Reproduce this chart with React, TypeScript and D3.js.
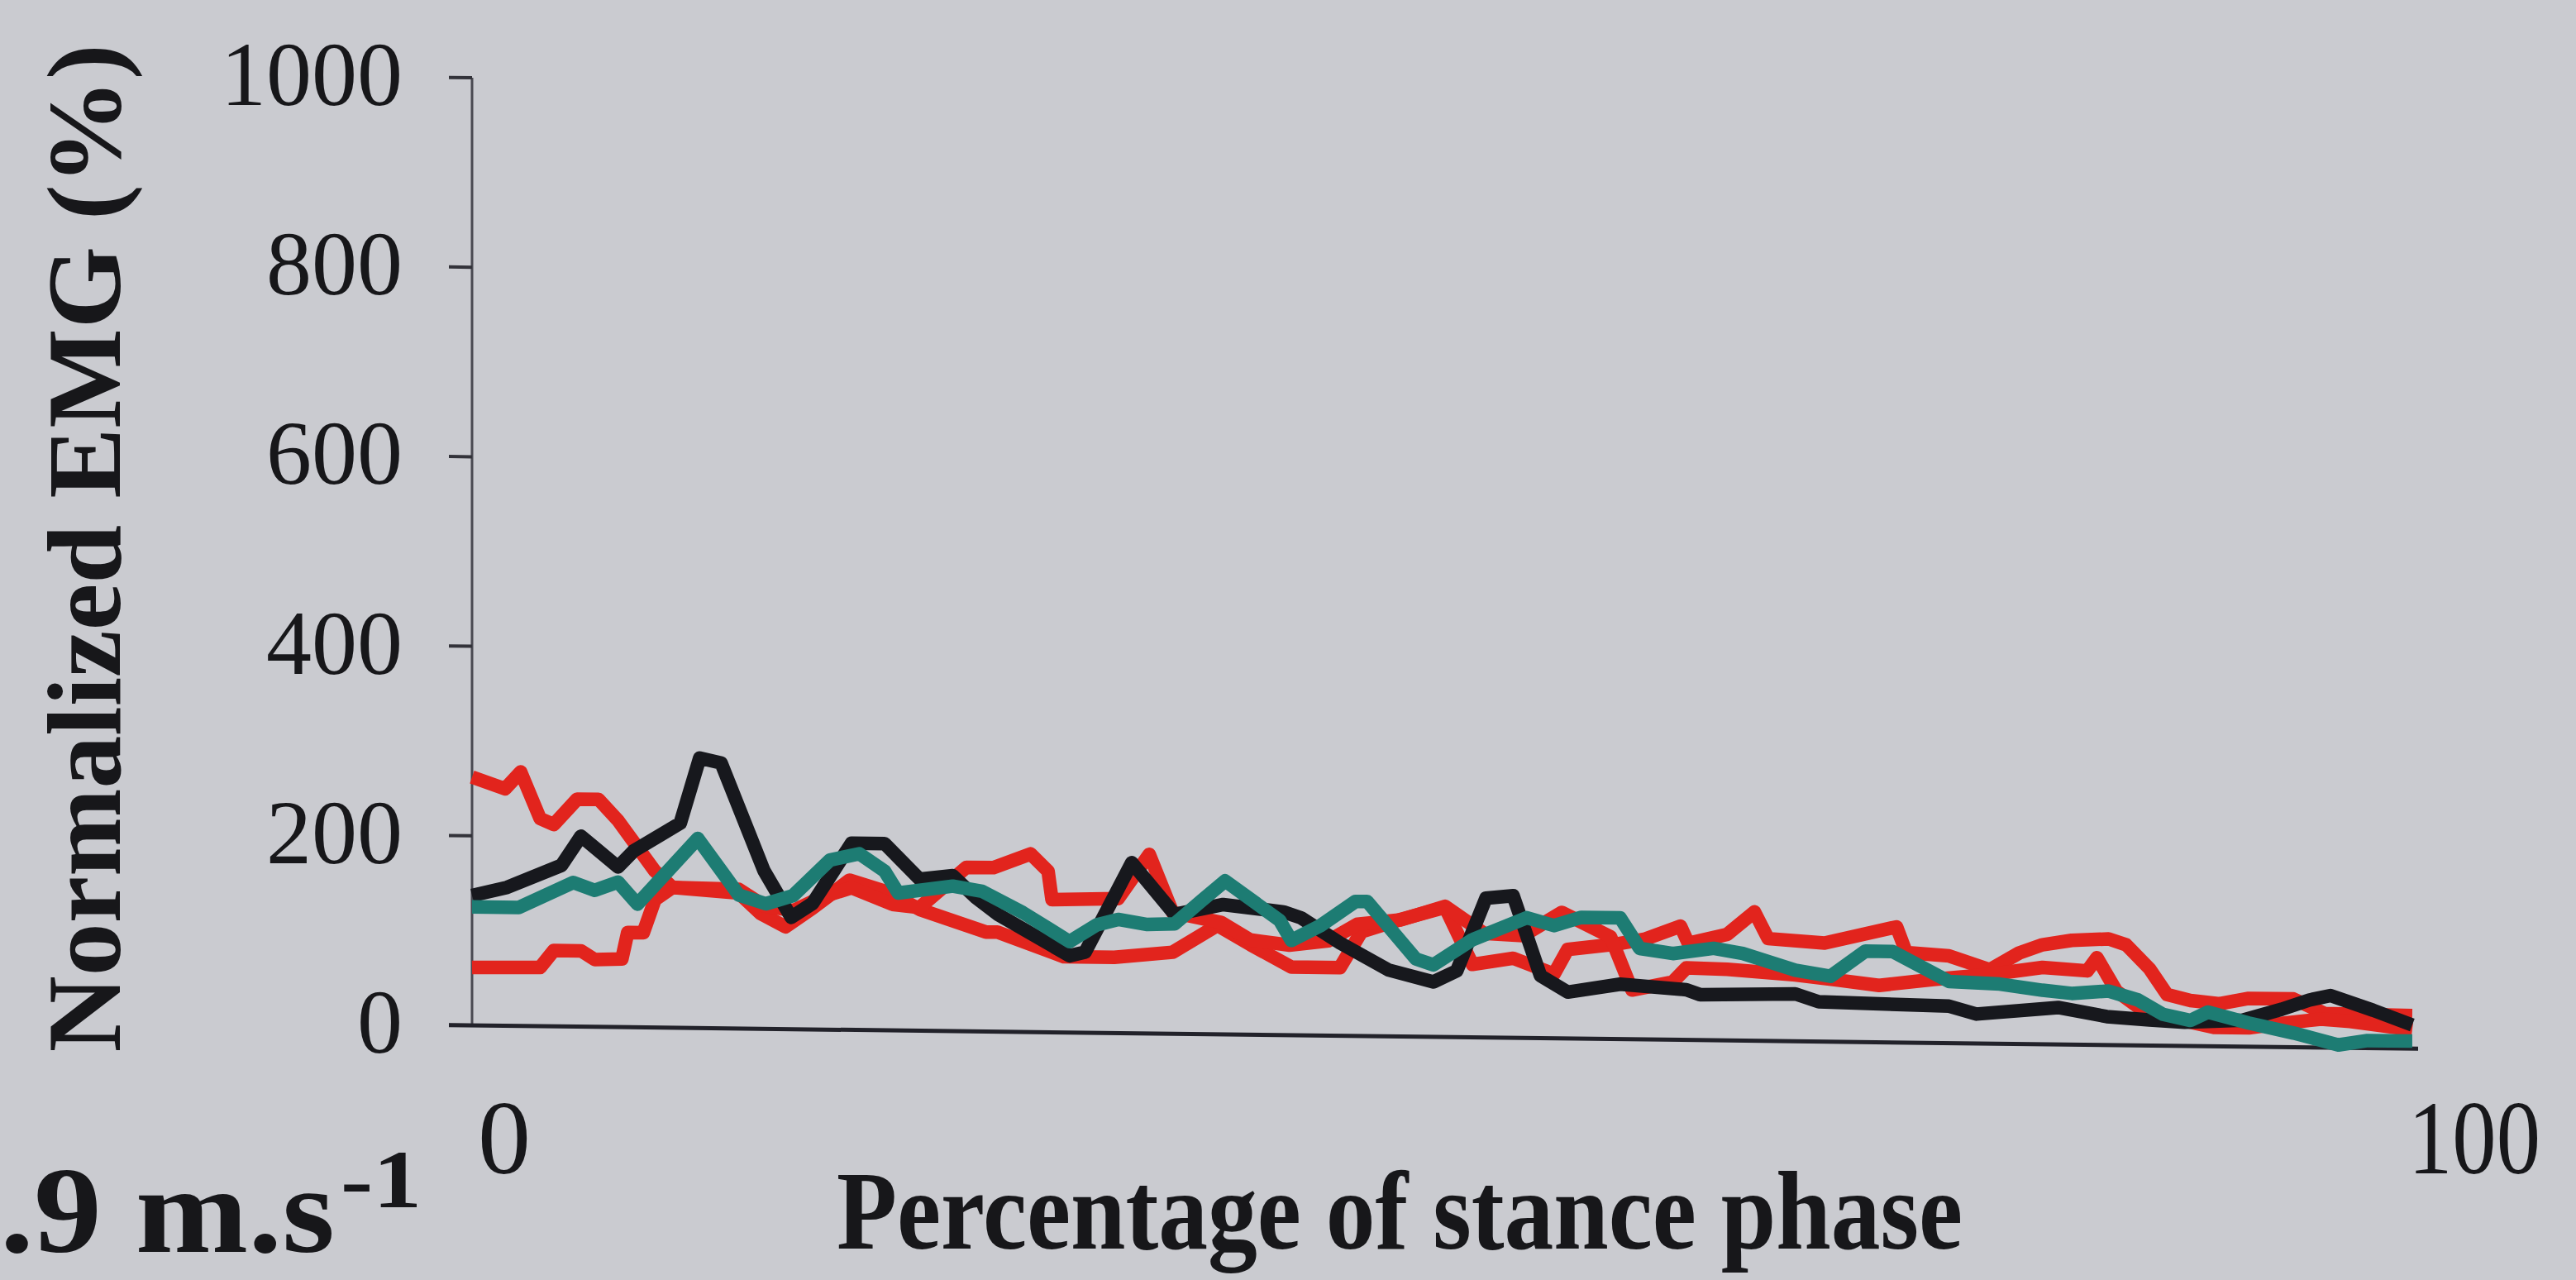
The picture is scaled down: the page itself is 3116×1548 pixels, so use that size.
import React from 'react';
import * as d3 from 'd3';

const W = 3116;
const H = 1548;

const yTickValues = [0, 200, 400, 600, 800, 1000];
const xTickValues = [0, 100];
const yTitle = 'Normalized EMG (%)';
const xTitle = 'Percentage of stance phase';
const speedMain = '.9 m.s';
const speedSup = '-1';

// Upper red line (starts high)
const redUpperPct = [0, 1.7, 2.5, 3.5, 4.2, 5.4, 6.5, 7.5, 9.4, 10.3, 13.7, 14.8, 16.1, 17.5, 19.4, 21.5, 23, 26.4, 27, 30.4, 33, 36, 38.3, 40, 42.1, 44.6, 45.7, 47.8, 50, 51.4, 53.5, 55.6, 56.3, 58.7, 60.3, 62.1, 62.5, 64.5, 65.9, 66.6, 69.5, 73.2, 73.7, 75.9, 78, 79.5, 80.7, 82.2, 84.1, 85, 86.2, 87.1, 88.3, 89.8, 91.3, 93.6, 95.2, 99.7];
const redUpperVal = [262, 250, 268, 219, 213, 240, 240, 218, 165, 148, 143, 122, 108, 128, 158, 145, 128, 105, 105, 80, 80, 86, 115, 95, 72, 72, 110, 124, 137, 77, 84, 68, 94, 100, 106, 120, 102, 112, 136, 108, 104, 122, 95, 92, 78, 96, 105, 110, 112, 106, 81, 54, 48, 45, 51, 51, 36, 35];

// Lower red line (starts low)
const redLowerPct = [0, 3.5, 4.2, 5.6, 6.3, 7.7, 8, 8.8, 9.4, 10.3, 13.7, 15, 16.5, 18, 19.5, 21.6, 23, 25.4, 26.8, 28.7, 29.6, 29.8, 33.2, 34.8, 36, 38.5, 40, 42, 44, 45.5, 47.7, 50, 52, 54, 56, 58.5, 59.6, 61.7, 62.4, 64.5, 68, 70.2, 72.3, 75.1, 78, 80.7, 83, 83.5, 84.5, 86, 89.5, 91.3, 93, 95, 96.5, 99.7];
const redLowerVal = [61, 62, 80, 80, 71, 72, 100, 100, 135, 148, 147, 130, 125, 140, 150, 133, 130, 173, 173, 188, 170, 140, 142, 189, 128, 118, 100, 95, 100, 118, 123, 138, 110, 108, 133, 108, 52, 61, 76, 75, 70, 65, 60, 67, 73, 81, 78, 92, 57, 35, 20, 20, 25, 30, 28, 20];

// Black line
const blackPct = [0, 1.8, 4.6, 5.6, 7.5, 8.3, 10.7, 11.7, 12.8, 15, 16.4, 17.5, 19.5, 21.2, 23, 24.7, 25.9, 27, 30.7, 31.5, 33.9, 36.1, 38.6, 41.7, 42.6, 44.6, 47.1, 49.4, 50.6, 52.1, 53.5, 54.9, 56.3, 59, 62.4, 63.1, 68, 69.2, 75.9, 77.3, 81.5, 84, 86.2, 88, 91, 93, 94.4, 95.5, 97.7, 99.7];
const blackVal = [137, 146, 170, 201, 169, 186, 216, 285, 280, 167, 118, 133, 197, 197, 160, 164, 141, 124, 81, 85, 180, 126, 137, 130, 124, 98, 70, 58, 70, 147, 150, 66, 49, 58, 53, 48, 50, 42, 39, 31, 39, 30, 27, 25, 28, 40, 50, 55, 40, 25];

// Teal line
const tealPct = [0, 2.4, 5.2, 6.3, 7.5, 8.5, 11.6, 13.1, 13.7, 15.1, 16.5, 18.4, 19.9, 21.2, 21.9, 24.7, 26.2, 28.3, 30.7, 32.1, 33.2, 34.7, 36.1, 37.5, 38.7, 41.5, 42.1, 43.6, 45.4, 46, 48.5, 49.4, 51.4, 54.2, 55.6, 57, 59, 60, 61.7, 63.8, 65.3, 68, 69.8, 71.6, 73, 75.9, 78.5, 80.7, 82.2, 84.1, 85.6, 86.9, 88.3, 89.2, 91.3, 93.6, 95.9, 97.4, 99.7];
const tealVal = [125, 125, 152, 144, 153, 130, 200, 158, 141, 132, 141, 179, 186, 168, 145, 153, 148, 126, 96, 114, 120, 115, 116, 141, 162, 121, 100, 116, 142, 142, 82, 76, 103, 127, 119, 128, 128, 96, 91, 97, 92, 75, 69, 96, 96, 65, 63, 57, 54, 57, 48, 33, 27, 36, 25, 15, 3, 8, 8];

const RED = '#e2241d';
const BLACK = '#17181d';
const TEAL = '#1d7c73';
const BG = '#cacbd0';
const INK = '#17171a';
const FONT = '"Liberation Serif", "Times New Roman", serif';

export default function App() {
  React.useEffect(() => {
    document.body.style.margin = '0';
  }, []);

  const x = d3.scaleLinear().domain([0, 100]).range([571, 2925]);
  const y = d3.scaleLinear().domain([0, 1000]).range([1240, 94]);
  const line = d3
    .line<[number, number]>()
    .x((d) => x(d[0]))
    .y((d) => y(d[1]));

  const series = [
    { key: 'ru', pct: redUpperPct, val: redUpperVal, color: RED },
    { key: 'rl', pct: redLowerPct, val: redLowerVal, color: RED },
    { key: 'k', pct: blackPct, val: blackVal, color: BLACK },
    { key: 't', pct: tealPct, val: tealVal, color: TEAL },
  ];

  const ox = x(0);
  const oy = y(0);
  const tilt = `translate(${ox},${oy}) skewY(0.69) translate(${-ox},${-oy})`;
  const tickLen = 28;

  return (
    <svg
      width={W}
      height={H}
      viewBox={`0 0 ${W} ${H}`}
      style={{ display: 'block', position: 'absolute', left: 0, top: 0 }}
    >
      <rect x={0} y={0} width={W} height={H} fill={BG} />
      <g transform={tilt}>
        <line x1={ox} x2={ox} y1={y(1000)} y2={oy} stroke="#4a4a52" strokeWidth={3} />
        {yTickValues.map((t) => (
          <line key={t} x1={ox - tickLen} x2={ox} y1={y(t)} y2={y(t)} stroke="#33333a" strokeWidth={4} />
        ))}
        <line x1={ox - tickLen} x2={x(100)} y1={oy} y2={oy} stroke="#22222a" strokeWidth={5} />
        {series.map((s) => (
          <path
            key={s.key}
            d={line(d3.zip(s.pct, s.val) as [number, number][]) || ''}
            fill="none"
            stroke={s.color}
            strokeWidth={16.5}
            strokeLinejoin="round"
            strokeLinecap="butt"
          />
        ))}
      </g>

      {yTickValues.map((t) => (
        <text
          key={t}
          x={487}
          y={y(t) - 4}
          textAnchor="end"
          dominantBaseline="central"
          fontFamily={FONT}
          fontSize={110}
          fill={INK}
        >
          {t}
        </text>
      ))}

      {xTickValues.map((t) => (
        <text
          key={t}
          x={t === 0 ? x(t) + 39 : x(t) - 12}
          y={1419}
          textAnchor={t === 0 ? 'middle' : 'start'}
          fontFamily={FONT}
          fontSize={128}
          textLength={t === 0 ? undefined : 160}
          lengthAdjust="spacingAndGlyphs"
          fill={INK}
        >
          {t}
        </text>
      ))}

      <text
        transform="translate(145,663) rotate(-90)"
        textAnchor="middle"
        fontFamily={FONT}
        fontWeight="bold"
        fontSize={128}
        textLength={1219}
        lengthAdjust="spacingAndGlyphs"
        fill={INK}
      >
        {yTitle}
      </text>

      <text
        x={1012}
        y={1510}
        fontFamily={FONT}
        fontWeight="bold"
        fontSize={136}
        textLength={1362}
        lengthAdjust="spacingAndGlyphs"
        fill={INK}
      >
        {xTitle}
      </text>

      <text
        x={0}
        y={1514}
        fontFamily={FONT}
        fontWeight="bold"
        fontSize={148}
        textLength={405}
        lengthAdjust="spacingAndGlyphs"
        fill={INK}
      >
        {speedMain}
      </text>
      <text
        x={412}
        y={1460}
        fontFamily={FONT}
        fontWeight="bold"
        fontSize={100}
        textLength={98}
        lengthAdjust="spacingAndGlyphs"
        fill={INK}
      >
        {speedSup}
      </text>
    </svg>
  );
}
